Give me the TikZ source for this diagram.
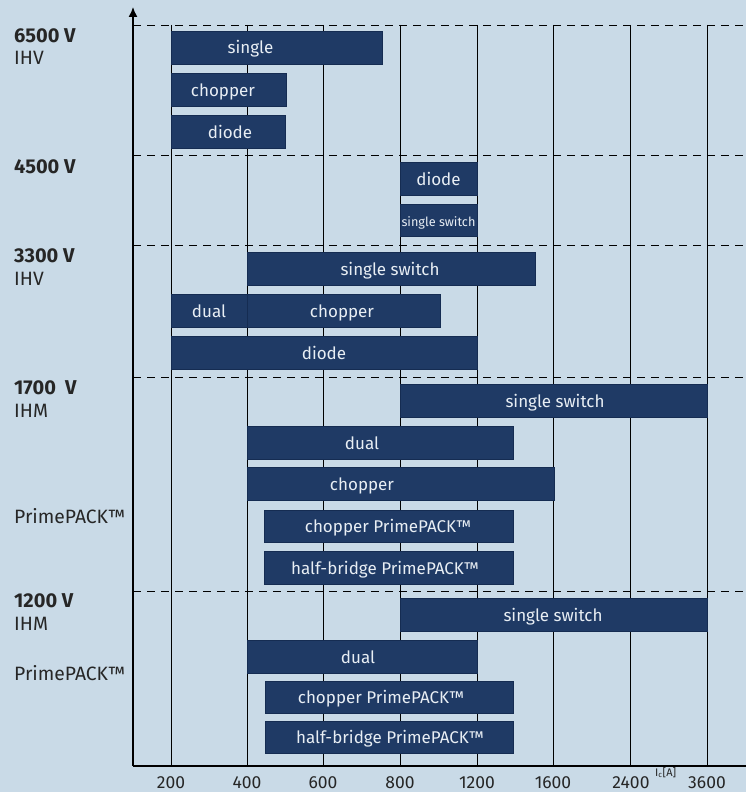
\documentclass[tikz,border=0pt]{standalone}
\usepackage{fontspec}
\setmainfont{Fira Sans}
\usetikzlibrary{arrows.meta}
\definecolor{bg}{HTML}{C9DAE7}
\definecolor{barfill}{HTML}{1F3A65}
\definecolor{barline}{HTML}{152C52}
\definecolor{bartxt}{HTML}{E8EEF4}
\newcommand{\hbarbox}[7]{%
  \node[barbox, minimum width={(#4-#2)*1pt}, minimum height={(#5-#3)*1pt}, anchor=north west] (#1) at (#2,#3) {};
  \node[bartext] (#1t) at (#6,{(#3+#5)/2+6.5}) {#7};}
\begin{document}
\begin{tikzpicture}[x=1pt,y=-1pt,
  barbox/.style={draw=barline, line width=0.8pt, fill=barfill, inner sep=0pt, outer sep=0pt},
  bartext/.style={text=bartxt, font=\fontsize{17}{20}\selectfont, inner sep=0pt, anchor=base},
  smalltext/.style={font=\fontsize{12.7}{15}\selectfont},
  gridline/.style={black, line width=0.9pt},
  dashline/.style={black, line width=0.9pt, dash pattern=on 8pt off 6pt},
  axis/.style={black, line width=1.4pt},
  vlabel/.style={anchor=base west, inner sep=0pt, font=\fontsize{20}{23}\selectfont\bfseries, text=black!85},
  tlabel/.style={anchor=base west, inner sep=0pt, font=\fontsize{19.3}{23}\selectfont, text=black!85},
  ticklabel/.style={anchor=base, inner sep=0pt, font=\fontsize{17.5}{20}\selectfont, text=black!85}
]
\useasboundingbox (0,0) rectangle (746,792);
\fill[bg] (0,0) rectangle (746,792);
% grid
\foreach \x in {171,247,323,400,477,553,630,707}
  \draw[gridline] (\x,25) -- (\x,766);
\foreach \y in {25,155,245,377,591}
  \draw[dashline] (133,\y) -- (746,\y);
% axes
\coordinate (origin) at (133,766);
\coordinate (ytop) at (133,7);
\coordinate (xend) at (746,766);
\draw[axis, -{Latex[length=10pt,width=9pt]}] (origin) -- (ytop);
\draw[axis] (origin) -- (xend);
% bars
\hbarbox{b1}{171}{31}{382}{64}{250.5}{single}
\hbarbox{b2}{171}{73.5}{286}{106}{223}{chopper}
\hbarbox{b3}{171}{115}{285}{148}{230}{diode}
\hbarbox{b4}{400}{162}{477}{195}{438.5}{diode}
\node[barbox, minimum width=77pt, minimum height=32pt, anchor=north west] (b5) at (400,204) {};
\node[bartext, smalltext] (b5t) at (438.5,226) {single switch};
\hbarbox{b6}{247}{252}{535}{285}{390}{single switch}
\hbarbox{b7}{171}{294}{247}{327}{209}{dual}
\hbarbox{b8}{247}{294}{440}{327}{342}{chopper}
\hbarbox{b9}{171}{336}{477}{369}{324}{diode}
\hbarbox{b10}{400}{384}{707}{417}{555}{single switch}
\hbarbox{b11}{247}{426}{513}{459}{362}{dual}
\hbarbox{b12}{247}{467}{554}{500}{362}{chopper}
\hbarbox{b13}{264}{510}{513}{542}{388}{chopper PrimePACK™}
\hbarbox{b14}{264}{551}{513}{584}{385}{half-bridge PrimePACK™}
\hbarbox{b15}{400}{598}{707}{631}{553}{single switch}
\hbarbox{b16}{247}{640}{477}{673}{358}{dual}
\hbarbox{b17}{265}{681}{513}{713}{381}{chopper PrimePACK™}
\hbarbox{b18}{265}{721}{513}{753}{390}{half-bridge PrimePACK™}
% voltage labels
\node[vlabel] (v1) at (14,42.5) {6500 V};
\node[tlabel] (v1a) at (14,64) {IHV};
\node[vlabel] (v2) at (14,173) {4500 V};
\node[vlabel] (v3) at (14,262) {3300 V};
\node[tlabel] (v3a) at (14,285) {IHV};
\node[vlabel] (v4) at (14,394) {1700\hspace{0.45em}V};
\node[tlabel] (v4a) at (14,417) {IHM};
\node[tlabel] (v4b) at (14,523) {PrimePACK™};
\node[vlabel] (v5) at (14,607) {1200 V};
\node[tlabel] (v5a) at (14,630) {IHM};
\node[tlabel] (v5b) at (14,680) {PrimePACK™};
% tick labels
\foreach \x/\t [count=\i] in {171/200,247/400,323/600,400/800,477/1200,553/1600,631/2400,707/3600}
  \node[ticklabel] (tick\i) at (\x,788) {\t};
\node[anchor=base west, inner sep=0pt, font=\fontsize{11}{12}\selectfont, text=black!85] (ic) at (655,776) {I\textsubscript{c}[A]};
\end{tikzpicture}
\end{document}
